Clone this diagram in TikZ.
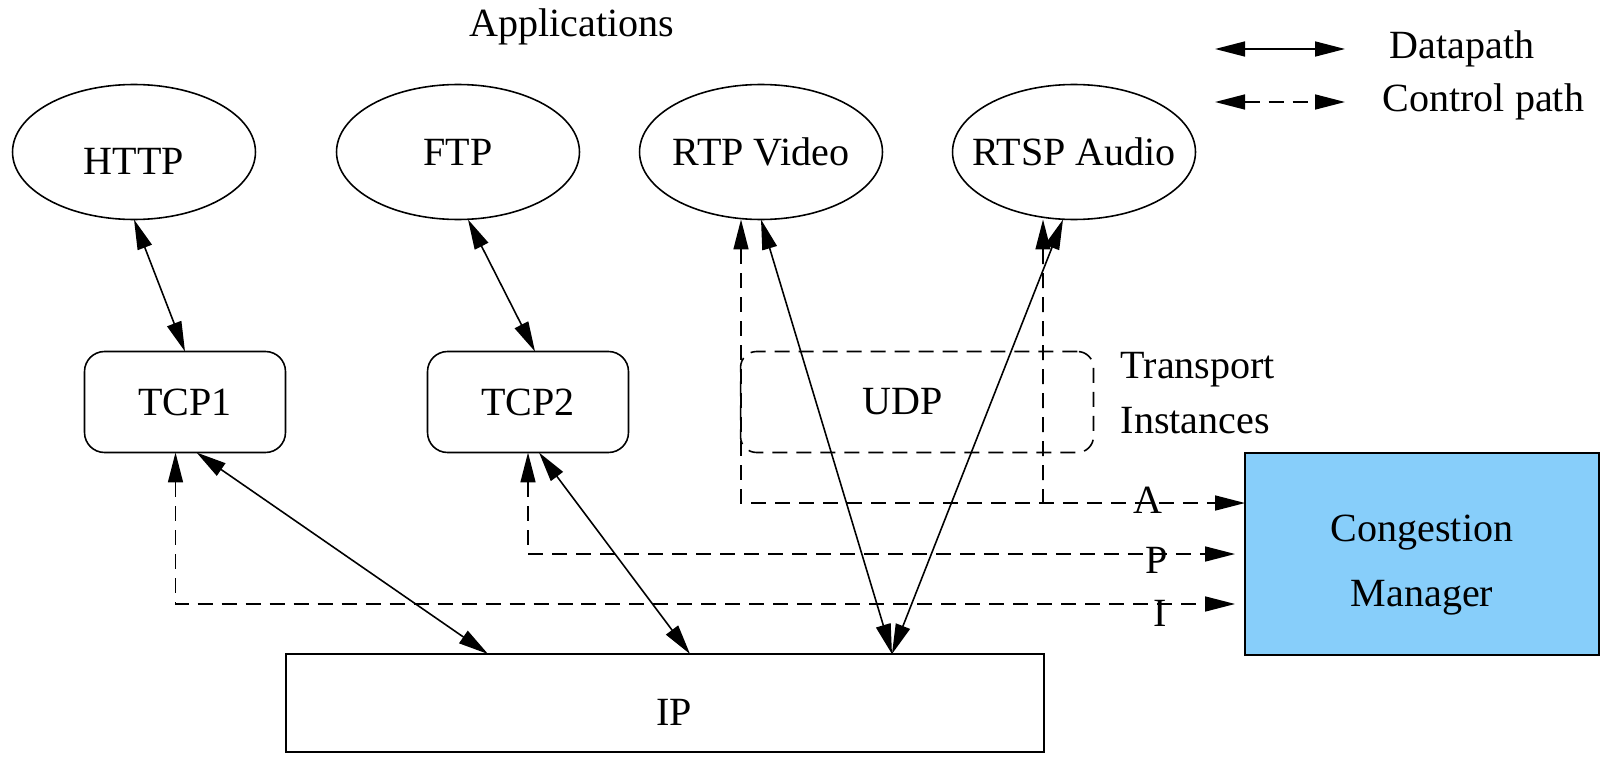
\documentclass[tikz,border=0pt]{standalone}
\usepackage{fontspec}
\setmainfont{Liberation Serif}
\usetikzlibrary{shapes.geometric,arrows.meta}
\definecolor{cmblue}{RGB}{135,206,250}

\begin{document}
\begin{tikzpicture}[x=0.02cm, y=-0.02cm, line width=0.9pt,
  font=\fontsize{22.8}{27}\selectfont,
  >={Triangle[length=0.6cm,width=0.3cm]},
  app/.style={ellipse, draw, minimum width=4.86cm, minimum height=2.7cm, inner sep=0pt, outer sep=0pt},
  tcpbox/.style={draw, rounded corners=0.4cm, minimum width=4.02cm, minimum height=2.02cm, outer sep=0pt},
  datapath/.style={<->},
  ctrlpath/.style={<->, dash pattern=on 0.3cm off 0.18cm}]
  \useasboundingbox (0,0) rectangle (1601,757);

  \node (apps) at (572,27) {Applications};
  \node[app, text height=0.9cm] (http) at (134,152) {\makebox[0pt]{HTTP}};
  \node[app] (ftp) at (458,152) {\makebox[0pt]{FTP}};
  \node[app] (rtp) at (761,152) {\makebox[0pt]{RTP Video}};
  \node[app] (rtsp) at (1074,152) {\makebox[0pt]{RTSP Audio}};

  \node[tcpbox] (tcp1) at (185,402) {TCP1};
  \node[tcpbox] (tcp2) at (528,402) {TCP2};
  \node[tcpbox, rounded corners=0.32cm, minimum width=7.06cm, dash pattern=on 0.3cm off 0.18cm] (udp) at (917,402) {\hspace*{-0.56cm}UDP};
  \node[anchor=west, align=left, font=\fontsize{22.8}{31}\selectfont] (transp) at (1114,393) {Transport\\Instances};

  \node[draw, minimum width=15.16cm, minimum height=1.96cm, outer sep=0pt, text height=0.9cm] (ip) at (665,703) {\hspace*{0.36cm}IP};
  \node[draw, fill=cmblue, minimum width=7.08cm, minimum height=4.04cm, outer sep=0pt] (cm) at (1422,554) {};
  \node[align=center, font=\fontsize{22.8}{37}\selectfont] (cmtext) at ([yshift=-0.22cm]cm.center) {Congestion\\Manager};

  \node (apiA) at (1148,500) {A};
  \node (apiP) at (1157,560) {P};
  \node (apiI) at (1160,613) {I};

  \node[anchor=west] (lgdata) at (1383,49) {Datapath};
  \node[anchor=west] (lgctrl) at (1376,102) {Control path};

  \draw[datapath] (http.south) -- (tcp1.north);
  \draw[datapath] ([xshift=0.2cm]ftp.south) -- ([xshift=0.14cm]tcp2.north);
  \draw[datapath] ([xshift=0.23cm]tcp1.south) -- ([xshift=-3.54cm]ip.north);
  \draw[datapath] ([xshift=0.22cm]tcp2.south) -- ([xshift=0.5cm]ip.north);
  \draw[datapath] (rtp.south) -- ([xshift=4.54cm]ip.north);
  \draw[datapath] ([xshift=-0.22cm]rtsp.south) -- ([xshift=4.54cm]ip.north);

  \coordinate (ajoin) at (1043,503);
  \draw[ctrlpath] ([xshift=-0.4cm]rtp.south) |- ([yshift=1.02cm]cm.west);
  \draw[ctrlpath, <-] ([xshift=-0.62cm]rtsp.south) -- (ajoin);
  \draw[ctrlpath] (tcp2.south) |- ([xshift=-0.2cm]cm.west);
  \draw[ctrlpath] ([xshift=-0.19cm]tcp1.south) |- ([xshift=-0.2cm,yshift=-1cm]cm.west);

  \draw[datapath] ([xshift=-3.36cm]lgdata.west) -- ([xshift=-0.76cm]lgdata.west);
  \draw[ctrlpath] ([xshift=-3.22cm]lgctrl.west) -- ([xshift=-0.62cm]lgctrl.west);
\end{tikzpicture}
\end{document}
